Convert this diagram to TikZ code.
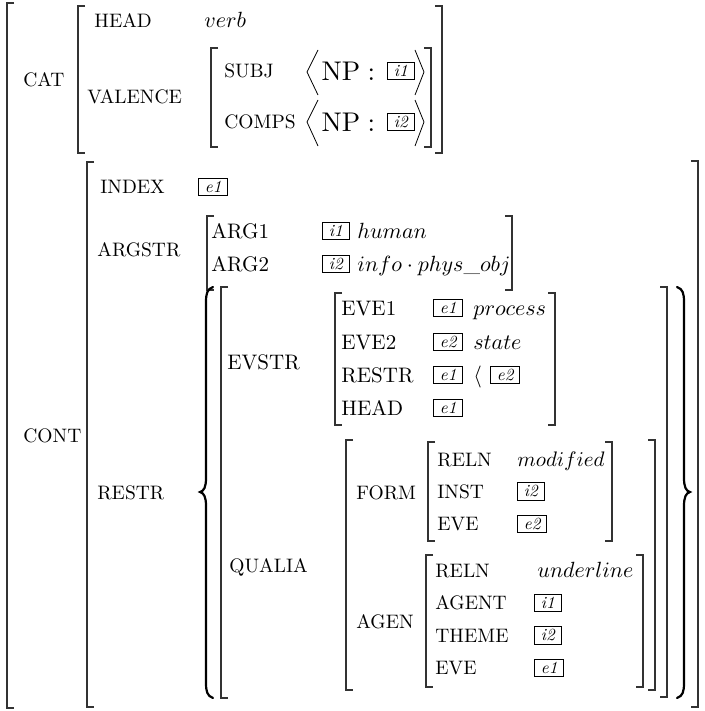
\documentclass[tikz,border=0pt]{standalone}
\tikzset{
  br/.style={line width=1.1pt, black!80},
  base/.style={anchor=base west, inner sep=0pt, font=\fontsize{10}{12}\selectfont},
  lbl/.style={base, scale=1.95},
  lblb/.style={base, scale=2.1},
  val/.style={base, scale=2.2},
  np/.style={base, scale=2.7},
  tag/.style={draw, line width=1pt, anchor=west, inner xsep=3.6pt, inner ysep=0pt, minimum height=10.3pt, scale=1.7, font=\fontsize{10}{12}\selectfont\itshape},
  ang/.style={line width=0.8pt},
  brace/.style={line width=2.2pt, line cap=round}
}
\newcommand\LB[3]{\draw[br] (#1+7,#2) -- (#1,#2) -- (#1,#3) -- (#1+7,#3);}
\newcommand\RB[3]{\draw[br] (#1-7,#2) -- (#1,#2) -- (#1,#3) -- (#1-7,#3);}
\begin{document}
\begin{tikzpicture}[x=1pt,y=-1pt]
\useasboundingbox (0,0) rectangle (704,711);
% ---------- brackets ----------
\LB{7}{3}{708}
\LB{78}{6}{153} \RB{442}{6}{153}
\LB{211}{48}{147} \RB{431}{48}{147}
\LB{87}{162}{707} \RB{698}{161}{707}
\LB{207}{216}{290} \RB{512}{216}{290}
\LB{221}{287}{698} \RB{667}{287}{697}
\LB{335}{293}{425} \RB{555}{293}{425}
\LB{346}{440}{690} \RB{655}{440}{690}
\LB{428}{442}{541} \RB{612}{442}{541}
\LB{426}{555}{687} \RB{643}{555}{687}
% ---------- braces ----------
\draw[brace] (213,287) .. controls (207,289) and (206,294) .. (206,302) -- (206,478)
  .. controls (206,487) and (204,491) .. (200,492)
  .. controls (204,493) and (206,497) .. (206,506) -- (206,683)
  .. controls (206,691) and (207,696) .. (213,698);
\draw[brace] (677,287) .. controls (683,289) and (684,294) .. (684,302) -- (684,478)
  .. controls (684,487) and (686,491) .. (690,492)
  .. controls (686,493) and (684,497) .. (684,506) -- (684,683)
  .. controls (684,691) and (683,696) .. (677,698);
% ---------- CAT ----------
\node[lbl] (cat) at (23,86.5) {CAT};
\node[lbl] (head) at (94,28) {HEAD};
\node[val] (verb) at (204,28) {$verb$};
\node[lbl] (valence) at (87,104) {VALENCE};
\node[lbl] (subj) at (224,78) {SUBJ};
\node[lbl] (comps) at (224,129) {COMPS};
\node[np] (np1) at (321,81) {NP};
\node[np] (c1) at (367,81) {:};
\node[tag] (t1) at (387,71) {i1};
\node[np] (np2) at (321,132) {NP};
\node[np] (c2) at (367,132) {:};
\node[tag] (t2) at (387,122) {i2};
\draw[ang] (318,50) -- (307,72) -- (318,95);
\draw[ang] (415,50) -- (424,72) -- (415,95);
\draw[ang] (318,100) -- (307,122) -- (318,146);
\draw[ang] (415,100) -- (424,122) -- (415,146);
% ---------- CONT ----------
\node[lbl] (cont) at (23,442) {CONT};
\node[lbl] (index) at (100,194) {INDEX};
\node[tag] (t3) at (198,187) {e1};
\node[lbl] (argstr) at (97,256) {ARGSTR};
\node[lblb] (arg1) at (211,238) {ARG1};
\node[tag] (t4) at (322,231) {i1};
\node[val] (human) at (357,238) {$human$};
\node[lblb] (arg2) at (211,271) {ARG2};
\node[tag] (t5) at (322,264) {i2};
\node[val] (info) at (357,271) {$info\cdot phys\_obj$};
\node[lbl] (restr) at (97,499) {RESTR};
% EVSTR
\node[lblb] (evstr) at (227,369) {EVSTR};
\node[lblb] (eve1) at (341,315) {EVE1};
\node[tag] (t6) at (433,308) {e1};
\node[val] (process) at (473,315) {$process$};
\node[lblb] (eve2) at (341,349) {EVE2};
\node[tag] (t7) at (433,342) {e2};
\node[val] (state) at (473,349) {$state$};
\node[lblb] (restr2) at (341,382) {RESTR};
\node[tag] (t8) at (433,375) {e1};
\node[val] (prec) at (473,382) {$\langle$};
\node[tag] (t9) at (490,375) {e2};
\node[lblb] (head2) at (341,415) {HEAD};
\node[tag] (t10) at (433,408) {e1};
% QUALIA
\node[lbl] (qualia) at (229,572) {QUALIA};
\node[lbl] (form) at (356,499) {FORM};
\node[lbl] (reln1) at (437,466.5) {RELN};
\node[base, scale=2.1] (modified) at (517,466.5) {$modified$};
\node[lbl] (inst) at (437,498.5) {INST};
\node[tag] (t11) at (517,491.5) {i2};
\node[lbl] (eve3) at (437,530.5) {EVE};
\node[tag] (t12) at (517,524) {e2};
\node[lbl] (agen) at (356,628) {AGEN};
\node[lbl] (reln2) at (435,577) {RELN};
\node[val] (underline) at (537,577) {$underline$};
\node[lbl] (agent) at (435,609.5) {AGENT};
\node[tag] (t13) at (534,603) {i1};
\node[lbl] (theme) at (435,642) {THEME};
\node[tag] (t14) at (534,635.5) {i2};
\node[lbl] (eve4) at (435,674.5) {EVE};
\node[tag] (t15) at (534,668) {e1};
\end{tikzpicture}
\end{document}
